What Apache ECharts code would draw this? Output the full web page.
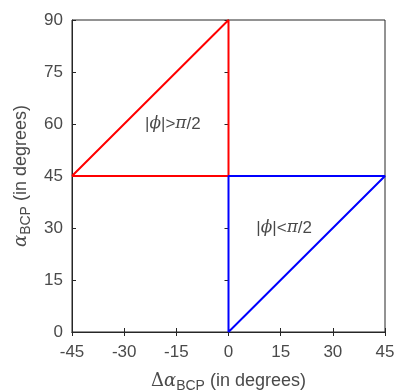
<!DOCTYPE html>
<html>
<head>
<meta charset="utf-8">
<script src="https://cdn.jsdelivr.net/npm/echarts@6/dist/echarts.min.js"></script>
<style>html,body{margin:0;padding:0;background:#fff;}#c{width:396px;height:392px;}</style>
</head>
<body>
<div id="c"></div>
<script>
var xTicks = [-45, -30, -15, 0, 15, 30, 45];
var yTicks = [0, 15, 30, 45, 60, 75, 90];
var redX = [-45, 0, 0, -45];
var redY = [45, 90, 45, 45];
var blueX = [0, 45, 0, 0];
var blueY = [0, 45, 45, 0];
var labelPos = [[-16, 60], [16, 30]];
var labelText = ['{m||}{i|ϕ}{m||>}{i|π}{m|/2}', '{m||}{i|ϕ}{m||<}{i|π}{m|/2}'];

function zip(xs, ys) { return xs.map(function (x, i) { return [x, ys[i]]; }); }

var chart = echarts.init(document.getElementById('c'), null, {renderer: 'canvas'});
var axisColor = '#262626';
var labelColor = '#4a4a4a';
var font = 'Liberation Sans, Arial, sans-serif';
var rich = {
  m: {fontFamily: font, fontSize: 17, color: '#1a1a1a', textBorderWidth: 0},
  i: {fontFamily: 'DejaVu Serif, serif', fontStyle: 'italic', fontSize: 17, color: '#1a1a1a', textBorderWidth: 0}
};
chart.setOption({
  animation: false,
  grid: {left: 72, right: 11, top: 20, bottom: 60, show: true, borderColor: axisColor, borderWidth: 1,
    containLabel: false, outerBoundsMode: 'none'},
  xAxis: [{
    type: 'value', min: -45, max: 45, interval: 15,
    axisLine: {show: true, onZero: false, lineStyle: {color: axisColor}},
    axisTick: {show: true, inside: true, length: 4, lineStyle: {color: axisColor}},
    axisLabel: {color: labelColor, fontSize: 17, fontFamily: font, margin: 12,
      formatter: function (v) { return xTicks.indexOf(v) >= 0 ? String(v) : ''; }},
    splitLine: {show: false},
    name: '{g|Δ}{a|α}{s|BCP}{t| (in degrees)}',
    nameLocation: 'middle', nameGap: 37,
    nameTextStyle: {rich: {
      g: {fontFamily: 'DejaVu Serif, serif', fontSize: 18, color: labelColor},
      a: {fontFamily: 'DejaVu Serif, serif', fontStyle: 'italic', fontSize: 18, color: labelColor},
      s: {fontFamily: font, fontSize: 14, color: labelColor, verticalAlign: 'bottom', padding: [10, 0, 0, 0]},
      t: {fontFamily: font, fontSize: 18, color: labelColor}
    }}
  }, {
    type: 'value', min: -45, max: 45, interval: 15, position: 'top',
    axisLine: {show: true, lineStyle: {color: axisColor}},
    axisTick: {show: true, inside: true, length: 4, lineStyle: {color: axisColor}},
    axisLabel: {show: false}, splitLine: {show: false}
  }],
  yAxis: [{
    type: 'value', min: 0, max: 90, interval: 15,
    axisLine: {show: true, onZero: false, lineStyle: {color: axisColor}},
    axisTick: {show: true, inside: true, length: 4, lineStyle: {color: axisColor}},
    axisLabel: {color: labelColor, fontSize: 17, fontFamily: font, margin: 9,
      formatter: function (v) { return yTicks.indexOf(v) >= 0 ? String(v) : ''; }},
    splitLine: {show: false},
    name: '{a|α}{s|BCP}{t| (in degrees)}',
    nameLocation: 'middle', nameGap: 38, nameRotate: 90,
    nameTextStyle: {rich: {
      a: {fontFamily: 'DejaVu Serif, serif', fontStyle: 'italic', fontSize: 18, color: labelColor},
      s: {fontFamily: font, fontSize: 14, color: labelColor, verticalAlign: 'bottom', padding: [10, 0, 0, 0]},
      t: {fontFamily: font, fontSize: 18, color: labelColor}
    }}
  }, {
    type: 'value', min: 0, max: 90, interval: 15, position: 'right',
    axisLine: {show: true, lineStyle: {color: axisColor}},
    axisTick: {show: true, inside: true, length: 4, lineStyle: {color: axisColor}},
    axisLabel: {show: false}, splitLine: {show: false}
  }],
  series: [{
    type: 'line', data: zip(redX, redY), symbol: 'none', z: 3,
    lineStyle: {color: '#ff0000', width: 2}
  }, {
    type: 'line', data: zip(blueX, blueY), symbol: 'none', z: 3,
    lineStyle: {color: '#0000ff', width: 2}
  }, {
    type: 'scatter', symbolSize: 0, z: 4, silent: true,
    data: labelPos.map(function (p, i) {
      return {value: p, label: {show: true, position: 'inside', formatter: labelText[i],
        color: '#1a1a1a', textBorderWidth: 0, rich: rich}};
    })
  }]
});
</script>
</body>
</html>
